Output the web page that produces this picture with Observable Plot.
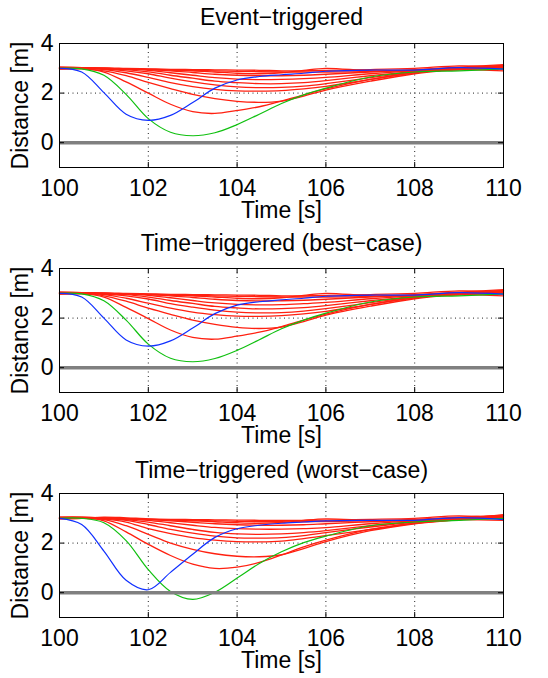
<!DOCTYPE html>
<html><head><meta charset="utf-8">
<script src="https://cdn.jsdelivr.net/npm/d3@7"></script>
<script src="https://cdn.jsdelivr.net/npm/@observablehq/plot@0.6"></script>
<style>
body{margin:0;background:#fff}
#chart{position:relative;width:548px;height:678px;background:#fff}
#chart svg{position:absolute;left:0}
</style>
</head><body><div id="chart"></div>
<script>
const time = [100, 100.5, 101, 101.5, 102, 102.5, 103, 103.5, 104, 104.5, 105, 105.5, 106, 107, 108, 109, 110];
const xTicks = [100, 102, 104, 106, 108, 110];
const yTicks = [0, 2, 4];
const panelTitles = ["Event\u2212triggered", "Time\u2212triggered (best\u2212case)", "Time\u2212triggered (worst\u2212case)"];
const xLabel = "Time [s]";
const yLabel = "Distance [m]";

// Panel 1: Event-triggered
const eventBlue  = [3.0, 2.85, 2.02, 1.15, 0.9, 1.1, 1.62, 2.2, 2.53, 2.67, 2.74, 2.8, 2.88, 2.93, 2.93, 3.03, 2.97];
const eventGreen = [3.0, 2.98, 2.72, 1.95, 0.97, 0.42, 0.28, 0.4, 0.73, 1.15, 1.58, 1.93, 2.2, 2.65, 2.85, 2.9, 2.98];
const eventRed = [
  [3.02, 3.0, 2.85, 2.45, 2.0, 1.55, 1.25, 1.18, 1.3, 1.45, 1.68, 1.93, 2.17, 2.55, 2.82, 2.97, 3.05],
  [3.0, 2.98, 2.9, 2.7, 2.43, 2.18, 1.95, 1.78, 1.67, 1.63, 1.68, 1.88, 2.12, 2.48, 2.78, 2.95, 3.07],
  [3.0, 3.0, 2.95, 2.82, 2.63, 2.42, 2.26, 2.15, 2.09, 2.08, 2.1, 2.17, 2.27, 2.55, 2.82, 2.98, 3.1],
  [2.98, 3.0, 2.97, 2.9, 2.78, 2.6, 2.45, 2.33, 2.25, 2.22, 2.23, 2.28, 2.38, 2.62, 2.85, 2.95, 2.98],
  [3.03, 3.02, 2.98, 2.95, 2.86, 2.72, 2.6, 2.48, 2.42, 2.38, 2.38, 2.42, 2.5, 2.7, 2.88, 3.0, 3.12],
  [3.0, 3.0, 3.0, 2.97, 2.92, 2.82, 2.72, 2.62, 2.56, 2.54, 2.55, 2.58, 2.63, 2.78, 2.9, 2.98, 3.02],
  [3.05, 3.03, 3.0, 2.98, 2.95, 2.9, 2.83, 2.76, 2.72, 2.7, 2.7, 2.72, 2.76, 2.85, 2.92, 3.02, 3.1],
  [2.97, 3.0, 3.0, 2.98, 2.97, 2.93, 2.9, 2.85, 2.8, 2.78, 2.82, 2.92, 3.0, 2.9, 2.9, 2.95, 2.9],
  [3.05, 3.03, 3.0, 2.98, 2.95, 2.93, 2.92, 2.9, 2.88, 2.86, 2.85, 2.85, 2.85, 2.88, 2.95, 3.05, 3.15],
  [2.98, 3.0, 3.02, 3.0, 2.98, 2.96, 2.95, 2.94, 2.93, 2.92, 2.9, 2.9, 2.92, 2.95, 3.0, 3.1, 3.05]
];

// Panel 2: Time-triggered (best-case)
const bestBlue  = [3.0, 2.85, 2.0, 1.12, 0.87, 1.08, 1.6, 2.18, 2.52, 2.66, 2.74, 2.8, 2.88, 2.93, 2.93, 3.03, 2.97];
const bestGreen = [3.0, 2.98, 2.7, 1.92, 0.95, 0.38, 0.24, 0.37, 0.7, 1.13, 1.57, 1.92, 2.2, 2.65, 2.85, 2.9, 2.98];
const bestRed = [
  [3.02, 3.0, 2.85, 2.43, 1.98, 1.52, 1.22, 1.15, 1.27, 1.43, 1.66, 1.92, 2.16, 2.55, 2.82, 2.97, 3.05],
  [3.0, 2.98, 2.9, 2.68, 2.4, 2.15, 1.92, 1.75, 1.63, 1.58, 1.64, 1.86, 2.12, 2.48, 2.78, 2.95, 3.07],
  [3.0, 3.0, 2.95, 2.8, 2.6, 2.4, 2.24, 2.14, 2.08, 2.07, 2.1, 2.17, 2.27, 2.55, 2.82, 2.98, 3.1],
  [2.98, 3.0, 2.97, 2.9, 2.77, 2.58, 2.44, 2.32, 2.24, 2.21, 2.22, 2.28, 2.38, 2.62, 2.85, 2.95, 2.98],
  [3.03, 3.02, 2.98, 2.95, 2.85, 2.71, 2.59, 2.47, 2.41, 2.37, 2.38, 2.42, 2.5, 2.7, 2.88, 3.0, 3.12],
  [3.0, 3.0, 3.0, 2.97, 2.92, 2.82, 2.71, 2.61, 2.55, 2.53, 2.54, 2.58, 2.63, 2.78, 2.9, 2.98, 3.02],
  [3.05, 3.03, 3.0, 2.98, 2.95, 2.9, 2.83, 2.76, 2.71, 2.69, 2.7, 2.72, 2.76, 2.85, 2.92, 3.02, 3.1],
  [2.97, 3.0, 3.0, 2.98, 2.97, 2.93, 2.9, 2.85, 2.8, 2.78, 2.82, 2.92, 3.0, 2.9, 2.9, 2.95, 2.9],
  [3.05, 3.03, 3.0, 2.98, 2.95, 2.93, 2.92, 2.9, 2.88, 2.86, 2.85, 2.85, 2.85, 2.88, 2.95, 3.05, 3.15],
  [2.98, 3.0, 3.02, 3.0, 2.98, 2.96, 2.95, 2.94, 2.93, 2.92, 2.9, 2.9, 2.92, 2.95, 3.0, 3.1, 3.05]
];

// Panel 3: Time-triggered (worst-case)
const worstBlue  = [3.0, 2.75, 1.68, 0.5, 0.12, 0.82, 1.55, 2.23, 2.58, 2.72, 2.8, 2.85, 2.9, 2.92, 2.92, 3.03, 2.95];
const worstGreen = [3.0, 3.0, 2.82, 2.1, 0.93, 0.05, -0.27, 0.02, 0.59, 1.18, 1.65, 2.02, 2.28, 2.7, 2.85, 2.92, 3.0];
const worstRed = [
  [3.02, 3.02, 2.9, 2.45, 1.95, 1.5, 1.15, 0.98, 1.03, 1.22, 1.52, 1.85, 2.12, 2.55, 2.8, 2.95, 3.05],
  [3.0, 3.0, 2.95, 2.7, 2.35, 2.0, 1.75, 1.57, 1.47, 1.45, 1.53, 1.78, 2.06, 2.5, 2.78, 2.95, 3.1],
  [3.0, 3.0, 2.97, 2.85, 2.58, 2.38, 2.22, 2.12, 2.06, 2.05, 2.08, 2.18, 2.3, 2.55, 2.8, 2.95, 3.0],
  [3.05, 3.03, 3.0, 2.92, 2.75, 2.55, 2.4, 2.28, 2.21, 2.2, 2.22, 2.3, 2.42, 2.65, 2.85, 3.0, 3.12],
  [2.98, 3.0, 2.98, 2.95, 2.85, 2.7, 2.55, 2.43, 2.37, 2.35, 2.37, 2.42, 2.5, 2.7, 2.88, 3.0, 3.05],
  [3.03, 3.05, 3.02, 2.98, 2.92, 2.82, 2.72, 2.63, 2.58, 2.56, 2.56, 2.58, 2.62, 2.78, 2.9, 2.98, 3.15],
  [3.0, 3.02, 3.0, 2.98, 2.95, 2.9, 2.84, 2.78, 2.74, 2.72, 2.72, 2.74, 2.78, 2.86, 2.93, 3.02, 3.08],
  [3.0, 3.0, 3.02, 3.0, 2.97, 2.93, 2.9, 2.86, 2.82, 2.8, 2.83, 2.92, 2.98, 2.92, 2.9, 2.95, 2.92],
  [3.05, 3.05, 3.02, 2.98, 2.96, 2.94, 2.92, 2.9, 2.88, 2.87, 2.86, 2.86, 2.87, 2.9, 2.96, 3.05, 3.12],
  [2.98, 3.0, 3.05, 3.02, 2.98, 2.96, 2.95, 2.94, 2.93, 2.92, 2.92, 2.92, 2.93, 2.96, 3.0, 3.1, 3.0]
];

const panels = [
  {title: panelTitles[0], blue: eventBlue, green: eventGreen, red: eventRed, top: 0},
  {title: panelTitles[1], blue: bestBlue, green: bestGreen, red: bestRed, top: 225},
  {title: panelTitles[2], blue: worstBlue, green: worstGreen, red: worstRed, top: 450}
];

const W = 548, H = 228, mt = 43, mb = 61, ml = 59, mr = 45;
const plotH = H - mt - mb, plotW = W - ml - mr, tickLen = 5;
const font = "'Liberation Sans', Arial, Helvetica, sans-serif";
const fs = 23;

function toRows(values, id) {
  return values.map((v, j) => ({t: time[j], v, id}));
}

function makePanel(p, k) {
  const redRows = p.red.flatMap((arr, i) => toRows(arr, "r" + i));
  const blueRows = toRows(p.blue, "b");
  const greenRows = toRows(p.green, "g");
  const titleDy = [-26, -25, -23][k];
  const svg = Plot.plot({
    width: W, height: H,
    marginTop: mt, marginBottom: mb, marginLeft: ml, marginRight: mr,
    style: {fontFamily: font, fontSize: fs + "px", color: "black", background: "transparent", overflow: "visible"},
    x: {domain: [100, 110]},
    y: {domain: [-1, 4]},
    marks: [
      Plot.gridX(xTicks, {stroke: "#222", strokeOpacity: 1, strokeDasharray: "1,3.5"}),
      Plot.gridY(yTicks, {stroke: "#222", strokeOpacity: 1, strokeDasharray: "1,3.5"}),
      Plot.line(redRows, {x: "t", y: "v", z: "id", stroke: "#ff2010", strokeWidth: 1.3, curve: "catmull-rom"}),
      Plot.line(greenRows, {x: "t", y: "v", stroke: "#10c010", strokeWidth: 1.2, curve: "catmull-rom"}),
      Plot.line(blueRows, {x: "t", y: "v", stroke: "#1030ff", strokeWidth: 1.2, curve: "catmull-rom"}),
      Plot.ruleY([0], {stroke: "#808080", strokeWidth: 3.5}),
      Plot.tickX(xTicks, {x: d => d, insetTop: plotH - tickLen, stroke: "black"}),
      Plot.tickX(xTicks, {x: d => d, insetBottom: plotH - tickLen, stroke: "black"}),
      Plot.tickY(yTicks, {y: d => d, insetRight: plotW - tickLen, stroke: "black"}),
      Plot.tickY(yTicks, {y: d => d, insetLeft: plotW - tickLen, stroke: "black"}),
      Plot.frame({stroke: "black", strokeWidth: 1}),
      Plot.axisX(xTicks, {tickSize: 0, tickPadding: 12, label: null, fontSize: fs}),
      Plot.axisY(yTicks, {tickSize: 0, tickPadding: 6, label: null, fontSize: fs}),
      Plot.text([p.title], {text: d => d, frameAnchor: "top", dy: titleDy, lineAnchor: "middle", textAnchor: "middle", fontSize: fs}),
      Plot.text([xLabel], {text: d => d, frameAnchor: "bottom", dy: 43, lineAnchor: "middle", textAnchor: "middle", fontSize: fs}),
      Plot.text([yLabel], {text: d => d, frameAnchor: "left", dx: -39, rotate: -90, lineAnchor: "middle", textAnchor: "middle", fontSize: fs})
    ]
  });
  svg.style.top = p.top + "px";
  return svg;
}

const chart = document.getElementById("chart");
panels.forEach((p, k) => chart.appendChild(makePanel(p, k)));
</script>
</body></html>
